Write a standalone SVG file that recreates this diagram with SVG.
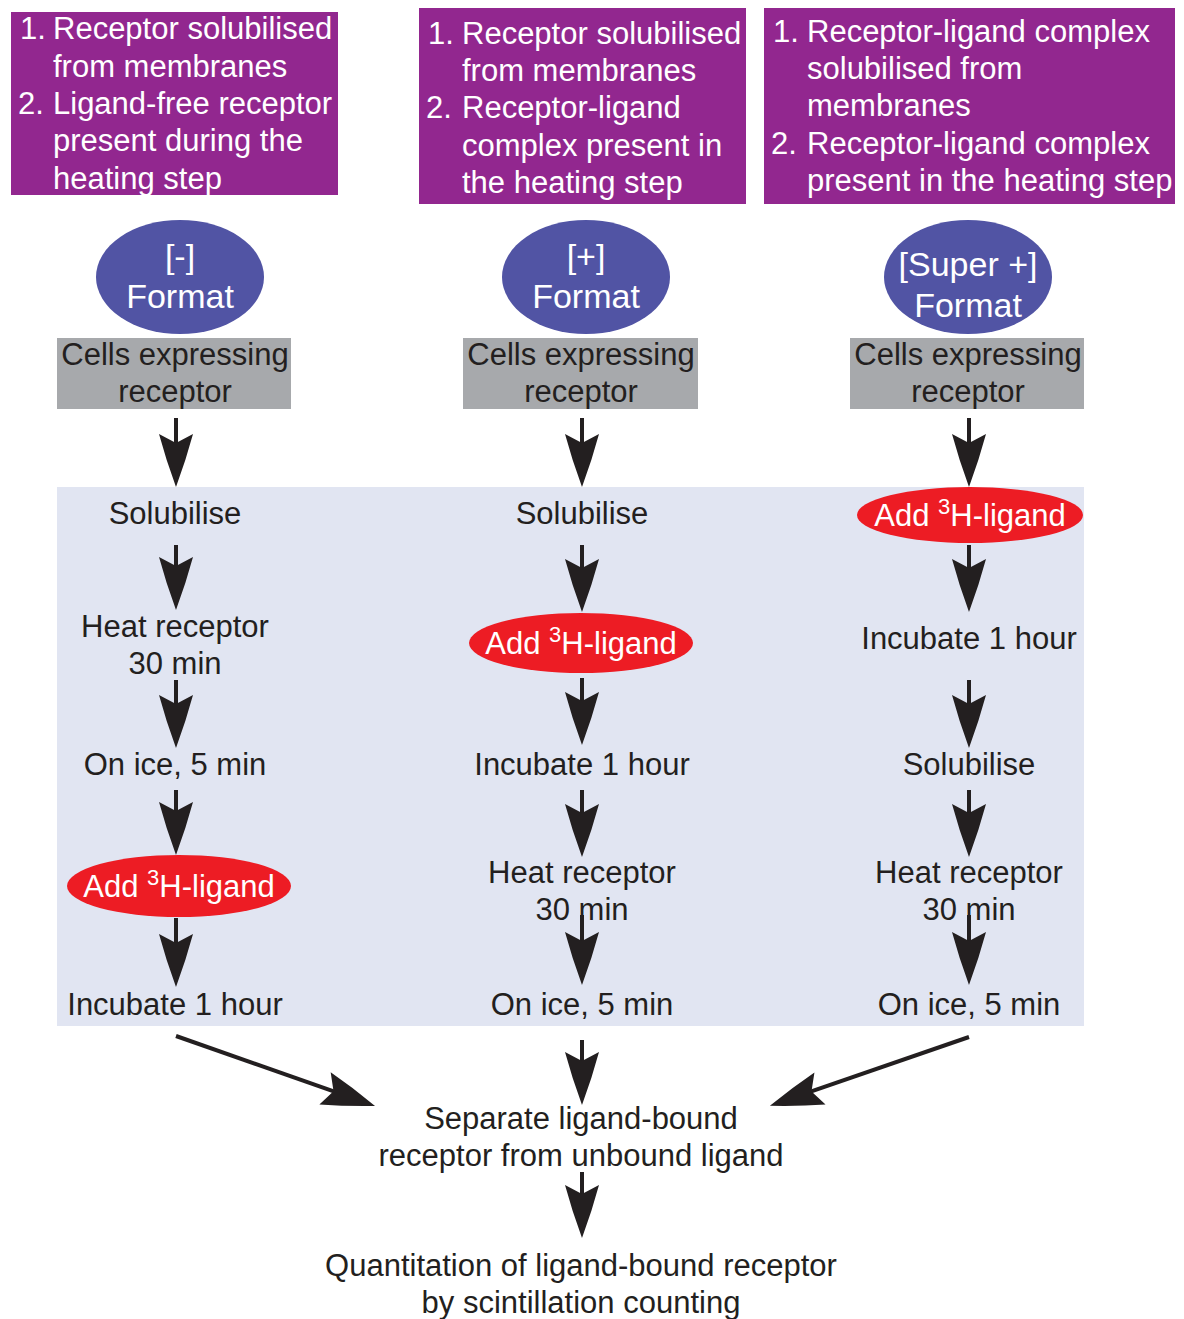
<svg xmlns="http://www.w3.org/2000/svg" width="1184" height="1319" viewBox="0 0 1184 1319">
<style>
.t{font-family:"Liberation Sans",Arial,sans-serif;font-size:31px;fill:#231F20}
.w{font-family:"Liberation Sans",Arial,sans-serif;font-size:31px;fill:#FFFFFF}
.c{text-anchor:middle}
.f{font-family:"Liberation Sans",Arial,sans-serif;font-size:34px;fill:#FFFFFF;text-anchor:middle}
.purple{fill:#92278F}
.blue{fill:#5154A4}
.gray{fill:#A7A9AC}
.red{fill:#ED1C24}
.arr{stroke:#231F20;stroke-width:4;fill:none;marker-end:url(#ah)}
</style>
<defs>
<marker id="ah" markerUnits="userSpaceOnUse" viewBox="-56 -20 60 40" markerWidth="60" markerHeight="40" refX="-40" refY="0" orient="auto" overflow="visible">
<path d="M0,0 Q-27,-10 -53,-17 L-44,0 L-53,17 Q-27,10 0,0 Z" fill="#231F20"/>
</marker>
</defs>
<rect width="1184" height="1319" fill="#FFFFFF"/>
<rect id="panel" x="57" y="487" width="1027" height="539" fill="#E1E5F2"/>

<g id="desc1">
<rect class="purple" x="11" y="12" width="327" height="183"/>
<text class="w" x="20" y="39">1.</text><text class="w" x="53" y="39">Receptor solubilised</text>
<text class="w" x="53" y="77">from membranes</text>
<text class="w" x="18" y="114">2.</text><text class="w" x="53" y="114">Ligand-free receptor</text>
<text class="w" x="53" y="151">present during the</text>
<text class="w" x="53" y="189">heating step</text>
</g>
<g id="desc2">
<rect class="purple" x="419" y="8" width="327" height="196"/>
<text class="w" x="428" y="44">1.</text><text class="w" x="462" y="44">Receptor solubilised</text>
<text class="w" x="462" y="81">from membranes</text>
<text class="w" x="426" y="118">2.</text><text class="w" x="462" y="118">Receptor-ligand</text>
<text class="w" x="462" y="156">complex present in</text>
<text class="w" x="462" y="193">the heating step</text>
</g>
<g id="desc3">
<rect class="purple" x="764" y="8" width="411" height="196"/>
<text class="w" x="773" y="42">1.</text><text class="w" x="807" y="42">Receptor-ligand complex</text>
<text class="w" x="807" y="79">solubilised from</text>
<text class="w" x="807" y="116">membranes</text>
<text class="w" x="771" y="154">2.</text><text class="w" x="807" y="154">Receptor-ligand complex</text>
<text class="w" x="807" y="191">present in the heating step</text>
</g>

<g id="fmt1"><ellipse class="blue" cx="180" cy="277" rx="84" ry="57"/><text class="f" x="180" y="268">[-]</text><text class="f" x="180" y="308">Format</text></g>
<g id="fmt2"><ellipse class="blue" cx="586" cy="277" rx="84" ry="57"/><text class="f" x="586" y="268">[+]</text><text class="f" x="586" y="308">Format</text></g>
<g id="fmt3"><ellipse class="blue" cx="968" cy="277" rx="84" ry="57"/><text class="f" x="968" y="276">[Super +]</text><text class="f" x="968" y="317">Format</text></g>

<g id="cells1"><rect class="gray" x="57" y="338" width="234" height="71"/><text class="t c" x="175" y="365">Cells expressing</text><text class="t c" x="175" y="402">receptor</text></g>
<g id="cells2"><rect class="gray" x="463" y="338" width="235" height="71"/><text class="t c" x="581" y="365">Cells expressing</text><text class="t c" x="581" y="402">receptor</text></g>
<g id="cells3"><rect class="gray" x="850" y="338" width="234" height="71"/><text class="t c" x="968" y="365">Cells expressing</text><text class="t c" x="968" y="402">receptor</text></g>

<g id="c1-sol"><text class="t c" x="175" y="524">Solubilise</text></g>
<g id="c1-heat"><text class="t c" x="175" y="637">Heat receptor</text><text class="t c" x="175" y="674">30 min</text></g>
<g id="c1-ice"><text class="t c" x="175" y="775">On ice, 5 min</text></g>
<g id="c1-add"><ellipse class="red" cx="179" cy="886" rx="112" ry="31"/><text class="w c" x="179" y="897">Add <tspan font-size="22" dy="-12">3</tspan><tspan dy="12">H-ligand</tspan></text></g>
<g id="c1-inc"><text class="t c" x="175" y="1015">Incubate 1 hour</text></g>

<g id="c2-sol"><text class="t c" x="582" y="524">Solubilise</text></g>
<g id="c2-add"><ellipse class="red" cx="581" cy="643" rx="112" ry="30"/><text class="w c" x="581" y="654">Add <tspan font-size="22" dy="-12">3</tspan><tspan dy="12">H-ligand</tspan></text></g>
<g id="c2-inc"><text class="t c" x="582" y="775">Incubate 1 hour</text></g>
<g id="c2-heat"><text class="t c" x="582" y="883">Heat receptor</text><text class="t c" x="582" y="920">30 min</text></g>
<g id="c2-ice"><text class="t c" x="582" y="1015">On ice, 5 min</text></g>

<g id="c3-add"><ellipse class="red" cx="970" cy="515" rx="113" ry="28"/><text class="w c" x="970" y="526">Add <tspan font-size="22" dy="-12">3</tspan><tspan dy="12">H-ligand</tspan></text></g>
<g id="c3-inc"><text class="t c" x="969" y="649">Incubate 1 hour</text></g>
<g id="c3-sol"><text class="t c" x="969" y="775">Solubilise</text></g>
<g id="c3-heat"><text class="t c" x="969" y="883">Heat receptor</text><text class="t c" x="969" y="920">30 min</text></g>
<g id="c3-ice"><text class="t c" x="969" y="1015">On ice, 5 min</text></g>

<g id="separate"><text class="t c" x="581" y="1129">Separate ligand-bound</text><text class="t c" x="581" y="1166">receptor from unbound ligand</text></g>
<g id="quant"><text class="t c" x="581" y="1276">Quantitation of ligand-bound receptor</text><text class="t c" x="581" y="1313">by scintillation counting</text></g>

<g id="connectors">
<line class="arr" x1="176" y1="418" x2="176" y2="447"/>
<line class="arr" x1="176" y1="545" x2="176" y2="570"/>
<line class="arr" x1="176" y1="680" x2="176" y2="708"/>
<line class="arr" x1="176" y1="790" x2="176" y2="815"/>
<line class="arr" x1="176" y1="918" x2="176" y2="947"/>
<line class="arr" x1="582" y1="418" x2="582" y2="447"/>
<line class="arr" x1="582" y1="545" x2="582" y2="572"/>
<line class="arr" x1="582" y1="678" x2="582" y2="705"/>
<line class="arr" x1="582" y1="790" x2="582" y2="817"/>
<line class="arr" x1="582" y1="915" x2="582" y2="945"/>
<line class="arr" x1="969" y1="418" x2="969" y2="447"/>
<line class="arr" x1="969" y1="545" x2="969" y2="572"/>
<line class="arr" x1="969" y1="680" x2="969" y2="708"/>
<line class="arr" x1="969" y1="790" x2="969" y2="817"/>
<line class="arr" x1="969" y1="915" x2="969" y2="945"/>
<line class="arr" x1="176" y1="1036" x2="337.3" y2="1092.7"/>
<line class="arr" x1="582" y1="1040" x2="582" y2="1065"/>
<line class="arr" x1="969" y1="1037" x2="807.7" y2="1092.7"/>
<line class="arr" x1="582" y1="1172" x2="582" y2="1198"/>
</g>
</svg>
